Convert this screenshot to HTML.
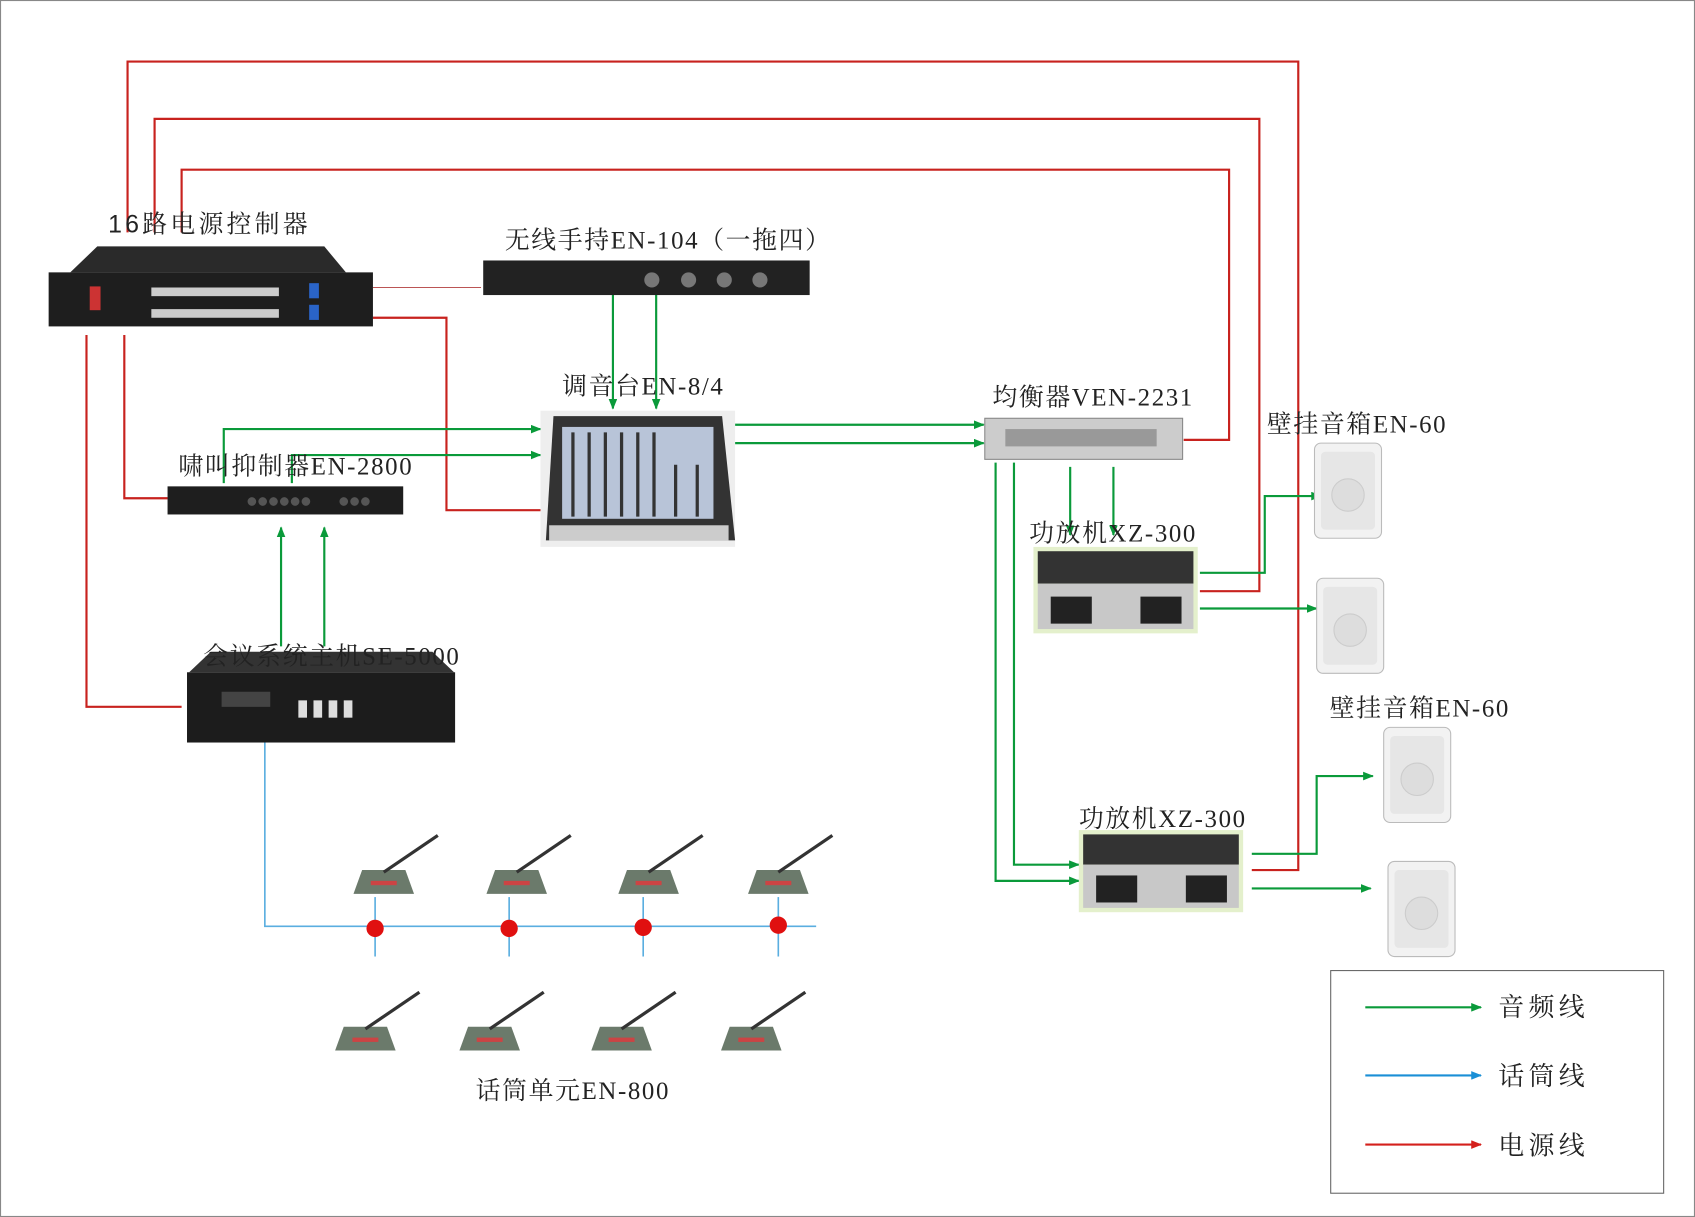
<!DOCTYPE html>
<html><head><meta charset="utf-8"><style>
html,body{margin:0;padding:0;background:#fff}
svg{display:block}
text{font-family:"Liberation Serif","Noto Serif CJK SC",serif;fill:#222}
</style></head><body>
<svg width="1695" height="1217" viewBox="0 0 1568 1126" preserveAspectRatio="none" xmlns="http://www.w3.org/2000/svg">
<defs>
<marker id="ag" markerWidth="10" markerHeight="8" refX="9" refY="4" orient="auto" markerUnits="userSpaceOnUse"><path d="M0,0 L10,4 L0,8 z" fill="#0a9a3a"/></marker>
<marker id="ab" markerWidth="10" markerHeight="8" refX="9" refY="4" orient="auto" markerUnits="userSpaceOnUse"><path d="M0,0 L10,4 L0,8 z" fill="#1a8fd6"/></marker>
<marker id="ar" markerWidth="10" markerHeight="8" refX="9" refY="4" orient="auto" markerUnits="userSpaceOnUse"><path d="M0,0 L10,4 L0,8 z" fill="#d4201c"/></marker>
<g id="m"><polygon points="0,20 40,20 48,42 -8,42" fill="#6b7a6b"/><rect x="8" y="30" width="24" height="4" fill="#c44"/><line x1="20" y1="22" x2="70" y2="-12" stroke="#333" stroke-width="3"/></g>
<g id="spk"><rect x="0" y="0" width="62" height="88" rx="6" fill="#f2f2f2" stroke="#bbb"/><rect x="6" y="8" width="50" height="72" rx="4" fill="#e6e6e6"/><circle cx="31" cy="48" r="15" fill="#ddd" stroke="#ccc"/></g>
</defs>
<rect x="0.5" y="0.5" width="1567" height="1125" fill="#fff" stroke="#888"/>

<g fill="none" stroke="#c8221e" stroke-width="2">
<polyline points="118,215 118,57 1201,57 1201,805 1158,805"/>
<polyline points="143,215 143,110 1165,110 1165,547 1110,547"/>
<polyline points="168,215 168,157 1137,157 1137,407 1095,407"/>
<polyline points="345,294 413,294 413,472 500,472"/>
<polyline points="115,310 115,461 155,461"/>
<polyline points="80,310 80,654 168,654"/>
</g>
<line x1="345" y1="266" x2="445" y2="266" stroke="#b55" stroke-width="1"/>

<g fill="none" stroke="#0a9a3a" stroke-width="2">
<polyline points="567,272 567,378" marker-end="url(#ag)"/>
<polyline points="607,272 607,378" marker-end="url(#ag)"/>
<polyline points="207,447 207,397 500,397" marker-end="url(#ag)"/>
<polyline points="270,447 270,421 500,421" marker-end="url(#ag)"/>
<polyline points="260,598 260,488" marker-end="url(#ag)"/>
<polyline points="300,598 300,488" marker-end="url(#ag)"/>
<polyline points="680,393 910,393" marker-end="url(#ag)"/>
<polyline points="680,410 910,410" marker-end="url(#ag)"/>
<polyline points="990,432 990,495" marker-end="url(#ag)"/>
<polyline points="1030,432 1030,495" marker-end="url(#ag)"/>
<polyline points="921,428 921,815 998,815" marker-end="url(#ag)"/>
<polyline points="938,428 938,800 998,800" marker-end="url(#ag)"/>
<polyline points="1110,530 1170,530 1170,459 1222,459" marker-end="url(#ag)"/>
<polyline points="1110,563 1218,563" marker-end="url(#ag)"/>
<polyline points="1158,790 1218,790 1218,718 1270,718" marker-end="url(#ag)"/>
<polyline points="1158,822 1268,822" marker-end="url(#ag)"/>
</g>

<g fill="none" stroke="#5aaee0" stroke-width="1.5">
<polyline points="245,672 245,857 755,857"/>
<line x1="347" y1="830" x2="347" y2="885"/><line x1="471" y1="830" x2="471" y2="885"/>
<line x1="595" y1="830" x2="595" y2="885"/><line x1="720" y1="830" x2="720" y2="885"/>
</g>
<g fill="#e01010"><circle cx="347" cy="859" r="8"/><circle cx="471" cy="859" r="8"/><circle cx="595" cy="858" r="8"/><circle cx="720" cy="856" r="8"/></g>

<polygon points="65,252 90,228 300,228 320,252" fill="#2a2a2a"/>
<rect x="45" y="252" width="300" height="50" fill="#1e1e1e"/>
<rect x="83" y="265" width="10" height="22" fill="#c33"/>
<g fill="#ccc"><rect x="140" y="266" width="118" height="8"/><rect x="140" y="286" width="118" height="8"/></g>
<rect x="286" y="262" width="9" height="14" fill="#2a64c8"/><rect x="286" y="282" width="9" height="14" fill="#2a64c8"/>

<rect x="447" y="241" width="302" height="32" fill="#222"/>
<g fill="#777"><circle cx="603" cy="259" r="7"/><circle cx="637" cy="259" r="7"/><circle cx="670" cy="259" r="7"/><circle cx="703" cy="259" r="7"/></g>

<rect x="155" y="450" width="218" height="26" fill="#1e1e1e"/>
<g fill="#555"><circle cx="233" cy="464" r="4"/><circle cx="243" cy="464" r="4"/><circle cx="253" cy="464" r="4"/><circle cx="263" cy="464" r="4"/><circle cx="273" cy="464" r="4"/><circle cx="283" cy="464" r="4"/><circle cx="318" cy="464" r="4"/><circle cx="328" cy="464" r="4"/><circle cx="338" cy="464" r="4"/></g>

<rect x="500" y="380" width="180" height="126" fill="#eee"/>
<polygon points="512,385 668,385 680,500 505,500" fill="#333"/>
<rect x="520" y="395" width="140" height="85" fill="#b8c4d8"/>
<g stroke="#333" stroke-width="3"><line x1="530" y1="400" x2="530" y2="478"/><line x1="545" y1="400" x2="545" y2="478"/><line x1="560" y1="400" x2="560" y2="478"/><line x1="575" y1="400" x2="575" y2="478"/><line x1="590" y1="400" x2="590" y2="478"/><line x1="605" y1="400" x2="605" y2="478"/><line x1="625" y1="430" x2="625" y2="478"/><line x1="645" y1="430" x2="645" y2="478"/></g>
<rect x="508" y="486" width="166" height="14" fill="#ccc"/>

<rect x="911" y="387" width="183" height="38" fill="#ccc" stroke="#888"/>
<rect x="930" y="397" width="140" height="16" fill="#999"/>

<g>
<rect x="956" y="506" width="152" height="80" fill="#e4f0cc"/>
<rect x="960" y="510" width="144" height="30" fill="#333"/>
<rect x="960" y="540" width="144" height="42" fill="#c8c8c8"/>
<rect x="972" y="552" width="38" height="25" fill="#222"/><rect x="1055" y="552" width="38" height="25" fill="#222"/>
</g>
<g>
<rect x="998" y="768" width="152" height="76" fill="#e4f0cc"/>
<rect x="1002" y="772" width="144" height="28" fill="#333"/>
<rect x="1002" y="800" width="144" height="40" fill="#c8c8c8"/>
<rect x="1014" y="810" width="38" height="25" fill="#222"/><rect x="1097" y="810" width="38" height="25" fill="#222"/>
</g>

<polygon points="175,622 195,603 400,603 420,622" fill="#333"/>
<rect x="173" y="622" width="248" height="65" fill="#1c1c1c"/>
<rect x="205" y="640" width="45" height="14" fill="#444"/>
<g fill="#ddd"><rect x="276" y="648" width="8" height="16"/><rect x="290" y="648" width="8" height="16"/><rect x="304" y="648" width="8" height="16"/><rect x="318" y="648" width="8" height="16"/></g>

<use href="#spk" x="1216" y="410"/><use href="#spk" x="1218" y="535"/>
<use href="#spk" x="1280" y="673"/><use href="#spk" x="1284" y="797"/>

<use href="#m" x="335" y="785"/><use href="#m" x="458" y="785"/><use href="#m" x="580" y="785"/><use href="#m" x="700" y="785"/>
<use href="#m" x="318" y="930"/><use href="#m" x="433" y="930"/><use href="#m" x="555" y="930"/><use href="#m" x="675" y="930"/>

<g font-size="23" letter-spacing="1.5">
<text x="100" y="215" letter-spacing="3"><tspan font-family="Liberation Sans,sans-serif">16</tspan>路电源控制器</text>
<text x="467" y="230">无线手持EN-104（一拖四）</text>
<text x="520" y="365">调音台EN-8/4</text>
<text x="918" y="375">均衡器VEN-2231</text>
<text x="165" y="439">啸叫抑制器EN-2800</text>
<text x="1172" y="400">壁挂音箱EN-60</text>
<text x="952" y="501">功放机XZ-300</text>
<text x="188" y="615">会议系统主机SE-5000</text>
<text x="1230" y="663">壁挂音箱EN-60</text>
<text x="998" y="765">功放机XZ-300</text>
<text x="440" y="1017">话筒单元EN-800</text>
</g>

<rect x="1231" y="898" width="308" height="206" fill="#fff" stroke="#666"/>
<line x1="1263" y1="932" x2="1370" y2="932" stroke="#0a9a3a" stroke-width="2" marker-end="url(#ag)"/>
<line x1="1263" y1="995" x2="1370" y2="995" stroke="#1a8fd6" stroke-width="2" marker-end="url(#ab)"/>
<line x1="1263" y1="1059" x2="1370" y2="1059" stroke="#d4201c" stroke-width="2" marker-end="url(#ar)"/>
<g font-size="24" letter-spacing="4"><text x="1386" y="940">音频线</text><text x="1386" y="1004">话筒线</text><text x="1386" y="1068">电源线</text></g>
</svg>
</body></html>
